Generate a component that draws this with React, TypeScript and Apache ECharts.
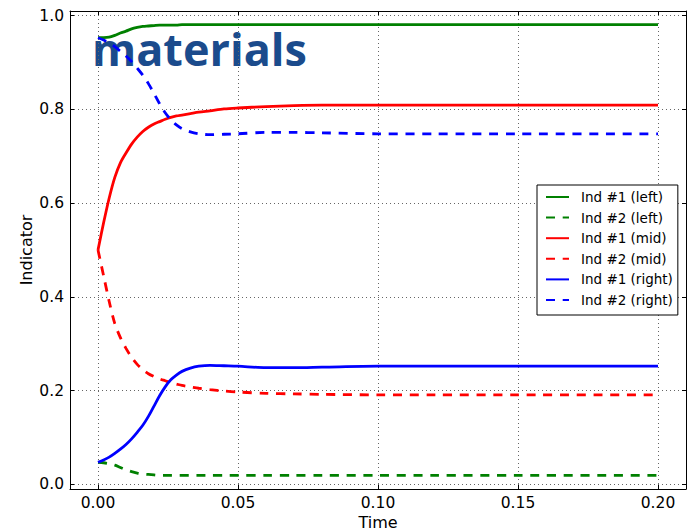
import React, { useEffect, useRef } from "react";
import * as echarts from "echarts";

const times = [0, 0.002, 0.004, 0.006, 0.008, 0.01, 0.012, 0.014, 0.016, 0.018, 0.02, 0.022, 0.024, 0.026, 0.028, 0.03, 0.033, 0.036, 0.04, 0.045, 0.05, 0.06, 0.07, 0.08, 0.1, 0.12, 0.15, 0.2];

const ind1Left = [0.953, 0.953, 0.954, 0.958, 0.963, 0.967, 0.972, 0.975, 0.977, 0.978, 0.979, 0.98, 0.98, 0.98, 0.98, 0.981, 0.981, 0.981, 0.981, 0.981, 0.981, 0.981, 0.981, 0.981, 0.981, 0.981, 0.981, 0.981];
const ind2Left = [0.047, 0.046, 0.044, 0.041, 0.036, 0.031, 0.027, 0.024, 0.022, 0.021, 0.02, 0.019, 0.019, 0.019, 0.019, 0.019, 0.019, 0.019, 0.019, 0.019, 0.019, 0.019, 0.019, 0.019, 0.019, 0.019, 0.019, 0.019];
const ind1Mid = [0.5, 0.558, 0.611, 0.655, 0.686, 0.707, 0.726, 0.741, 0.753, 0.762, 0.769, 0.774, 0.779, 0.783, 0.786, 0.788, 0.791, 0.794, 0.797, 0.801, 0.803, 0.806, 0.808, 0.809, 0.809, 0.809, 0.809, 0.809];
const ind2Mid = [0.5, 0.445, 0.39, 0.343, 0.313, 0.29, 0.271, 0.256, 0.245, 0.236, 0.23, 0.225, 0.221, 0.217, 0.214, 0.211, 0.208, 0.205, 0.202, 0.199, 0.197, 0.194, 0.193, 0.192, 0.191, 0.191, 0.191, 0.191];
const ind1Right = [0.047, 0.052, 0.058, 0.066, 0.075, 0.085, 0.097, 0.111, 0.126, 0.145, 0.167, 0.189, 0.208, 0.223, 0.233, 0.241, 0.248, 0.252, 0.254, 0.253, 0.252, 0.249, 0.249, 0.25, 0.252, 0.252, 0.252, 0.252];
const ind2Right = [0.953, 0.948, 0.942, 0.934, 0.924, 0.914, 0.902, 0.888, 0.873, 0.855, 0.834, 0.812, 0.793, 0.778, 0.767, 0.759, 0.752, 0.748, 0.746, 0.747, 0.748, 0.751, 0.751, 0.75, 0.748, 0.748, 0.748, 0.748];

const seriesNames = ["Ind #1 (left)", "Ind #2 (left)", "Ind #1 (mid)", "Ind #2 (mid)", "Ind #1 (right)", "Ind #2 (right)"];
const seriesValues = [ind1Left, ind2Left, ind1Mid, ind2Mid, ind1Right, ind2Right];
const seriesColors = ["#008000", "#008000", "#ff0000", "#ff0000", "#0000ff", "#0000ff"];
const seriesDashed = [false, true, false, true, false, true];

const xTicks = [0, 0.05, 0.1, 0.15, 0.2];
const yTicks = [0, 0.2, 0.4, 0.6, 0.8, 1.0];

const FONT = "DejaVu Sans";

function isTick(v: number, list: number[]) {
  return list.some((t) => Math.abs(t - v) < 1e-9);
}

export default function App() {
  const ref = useRef<HTMLDivElement>(null);
  useEffect(() => {
    if (!ref.current) return;
    const chart = echarts.init(ref.current, undefined, { renderer: "svg" });
    const gridLine = { show: true, lineStyle: { color: "#666", width: 1, type: [1, 3] as any } };
    const frameLine = { show: true, onZero: false, lineStyle: { color: "#000", width: 1 } };
    const tick = { show: true, inside: true, length: 4, lineStyle: { color: "#000", width: 1 } };
    const baseX = { type: "value" as const, min: -0.01, max: 0.21 };
    const baseY = { type: "value" as const, min: -0.01, max: 1.01 };
    chart.setOption({
      animation: false,
      backgroundColor: "#fff",
      grid: { left: 70, right: 6, top: 11, bottom: 43, containLabel: false, outerBoundsMode: "none" },
      xAxis: [
        {
          ...baseX,
          position: "bottom",
          name: "Time",
          nameLocation: "middle",
          nameGap: 25,
          nameMoveOverlap: false,
          nameTextStyle: { color: "#000", fontFamily: FONT, fontSize: 16 },
          axisLine: frameLine,
          axisTick: tick,
          splitLine: gridLine,
          axisLabel: {
            color: "#000",
            fontFamily: FONT,
            fontSize: 15.5,
            margin: 6,
            showMinLabel: false,
            showMaxLabel: false,
            formatter: (v: number) => (isTick(v, xTicks) ? v.toFixed(2) : ""),
          },
        },
        {
          ...baseX,
          position: "top",
          axisLine: frameLine,
          axisTick: tick,
          splitLine: { show: false },
          axisLabel: { show: false },
        },
      ],
      yAxis: [
        {
          ...baseY,
          position: "left",
          name: "Indicator",
          nameLocation: "middle",
          nameGap: 36,
          nameMoveOverlap: false,
          nameTextStyle: { color: "#000", fontFamily: FONT, fontSize: 16 },
          axisLine: frameLine,
          axisTick: tick,
          splitLine: gridLine,
          axisLabel: {
            color: "#000",
            fontFamily: FONT,
            fontSize: 15.5,
            margin: 6,
            showMinLabel: false,
            showMaxLabel: false,
            formatter: (v: number) => (isTick(v, yTicks) ? v.toFixed(1) : ""),
          },
        },
        {
          ...baseY,
          position: "right",
          axisLine: frameLine,
          axisTick: tick,
          splitLine: { show: false },
          axisLabel: { show: false },
        },
      ],
      legend: {
        orient: "vertical",
        left: 537,
        top: 185,
        itemWidth: 23,
        itemHeight: 15,
        itemGap: 6.6,
        padding: [5, 5, 8, 8],
        borderColor: "#000",
        borderWidth: 1,
        borderRadius: 0,
        backgroundColor: "#fff",
        itemStyle: { opacity: 0 },
        textStyle: { color: "#000", fontFamily: FONT, fontSize: 13.5, padding: [0, 0, 0, 7] },
        data: seriesNames.map((n) => ({ name: n })),
      },
      graphic: [
        {
          type: "text",
          x: 92,
          y: 48,
          z: 0,
          style: {
            text: "materials",
            fill: "#1b4b8c",
            font: 'bold 45px "Open Sans"',
            verticalAlign: "middle",
            align: "left",
          },
        },
      ],
      series: seriesNames.map((name, i) => ({
        name,
        type: "line",
        xAxisIndex: 0,
        yAxisIndex: 0,
        showSymbol: false,
        symbol: "none",
        smooth: 0.3,
        z: 3,
        lineStyle: {
          color: seriesColors[i],
          width: 2.8,
          type: seriesDashed[i] ? [9, 7.7] : "solid",
        },
        itemStyle: { color: seriesColors[i] },
        data: times.map((t, k) => [t, seriesValues[i][k]]),
      })),
    });
    return () => chart.dispose();
  }, []);
  return <div ref={ref} style={{ width: 692, height: 532, position: "absolute", left: 0, top: 0 }} />;
}
